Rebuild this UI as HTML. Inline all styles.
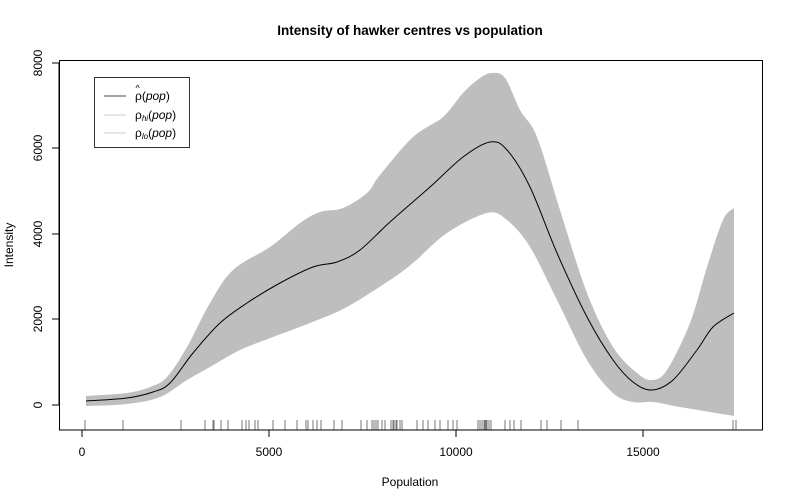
<!DOCTYPE html>
<html><head><meta charset="utf-8"><style>
body{margin:0;background:#fff;}
svg{display:block;font-family:"Liberation Sans",Arial,sans-serif;}
</style></head><body>
<svg width="792" height="504" viewBox="0 0 792 504">
<rect width="792" height="504" fill="#fff"/>
<path id="band" fill="#bebebe" stroke="none" d="M86,396 L127,393 L150,387 L167,377 L187,347 L210,303 L233,270 L270,247 L300,223 L320,212 L343,208 L367,193 L380,175 L413,137 L443,117 L463,93 L480,78 L492,73 L505,78 L520,110 L537,137 L560,210 L587,293 L613,347 L637,373 L652,380 L667,370 L690,323 L707,267 L723,220 L734,208 L734,416 L680,407 L653,402 L633,402 L613,393 L587,360 L557,300 L530,247 L507,220 L487,213 L447,233 L413,263 L390,280 L347,307 L310,323 L273,337 L240,350 L210,367 L187,380 L160,397 L127,404 L86,406 Z"/>
<path id="mean" fill="none" stroke="#000" stroke-width="1" d="M86,401 L127,398 L153,392 L170,383 L193,353 L220,323 L247,303 L280,283 L313,267 L337,262 L360,250 L390,222 L430,187 L463,157 L490,142 L507,150 L530,187 L557,253 L587,317 L613,360 L633,382 L652,390 L673,380 L697,350 L713,327 L734,313"/>
<g stroke="#555" stroke-width="0.8">
<path d="M85,420v10M123,420v10M181,420v10M205,420v10M213,420v10M214,420v10M221,420v10M228,420v10M242,420v10M246,420v10M249,420v10M255,420v10M258,420v10M273,420v10M285,420v10M297,420v10M306,420v10M308,420v10M313,420v10M317,420v10M321,420v10M334,420v10M342,420v10M361,420v10M367,420v10M372,420v10M374,420v10M376,420v10M378,420v10M382,420v10M385,420v10M391,420v10M393,420v10M394,420v10M396,420v10M397,420v10M400,420v10M402,420v10M417,420v10M423,420v10M428,420v10M435,420v10M440,420v10M448,420v10M453,420v10M457,420v10M478,420v10M480,420v10M482,420v10M484,420v10M485,420v10M486,420v10M487,420v10M489,420v10M491,420v10M505,420v10M510,420v10M514,420v10M521,420v10M541,420v10M547,420v10M561,420v10M578,420v10M733,420v10M736,420v10"/>
</g>
<rect x="59.5" y="60.5" width="703" height="369.5" fill="none" stroke="#000"/>
<g stroke="#000">
<line x1="82" y1="430" x2="643" y2="430"/>
<line x1="82" y1="430" x2="82" y2="437"/><line x1="269" y1="430" x2="269" y2="437"/><line x1="456" y1="430" x2="456" y2="437"/><line x1="643" y1="430" x2="643" y2="437"/>
<line x1="59" y1="63" x2="59" y2="405"/>
<line x1="52" y1="405" x2="59" y2="405"/><line x1="52" y1="319" x2="59" y2="319"/><line x1="52" y1="234" x2="59" y2="234"/><line x1="52" y1="148" x2="59" y2="148"/><line x1="52" y1="63" x2="59" y2="63"/>
</g>
<g font-size="12" text-anchor="middle" fill="#000">
<text x="82" y="456">0</text><text x="269" y="456">5000</text><text x="456" y="456">10000</text><text x="643" y="456">15000</text>
<g transform="translate(42,405) rotate(-90)"><text>0</text></g>
<g transform="translate(42,319) rotate(-90)"><text>2000</text></g>
<g transform="translate(42,234) rotate(-90)"><text>4000</text></g>
<g transform="translate(42,148) rotate(-90)"><text>6000</text></g>
<g transform="translate(42,63) rotate(-90)"><text>8000</text></g>
<text x="410" y="486">Population</text>
<g transform="translate(13,245) rotate(-90)"><text>Intensity</text></g>
<text x="410" y="35" font-weight="bold" font-size="13.5">Intensity of hawker centres vs population</text>
</g>
<rect x="94.5" y="77.5" width="95" height="70" fill="#fff" stroke="#000" stroke-width="0.8"/>
<line x1="104" y1="96" x2="126" y2="96" stroke="#444"/>
<line x1="104" y1="115" x2="126" y2="115" stroke="#ccc"/>
<line x1="104" y1="133" x2="126" y2="133" stroke="#ccc"/>
<g font-size="12" fill="#000">
<text x="135" y="100">ρ(<tspan font-style="italic">pop</tspan>)</text>
<text x="135.5" y="91" font-size="9">^</text>
<text x="135" y="119">ρ<tspan font-size="8" font-style="italic" dy="2">hi</tspan><tspan dy="-2">(</tspan><tspan font-style="italic">pop</tspan>)</text>
<text x="135" y="137">ρ<tspan font-size="8" font-style="italic" dy="2">lo</tspan><tspan dy="-2">(</tspan><tspan font-style="italic">pop</tspan>)</text>
</g>
</svg>
<script>
function parse(d){var m=d.match(/-?\d+(\.\d+)?/g).map(Number),p=[];for(var i=0;i<m.length;i+=2)p.push([m[i],m[i+1]]);return p;}
function smooth(p){var s="M"+p[0][0]+","+p[0][1];for(var i=0;i<p.length-1;i++){var a=p[Math.max(i-1,0)],b=p[i],c=p[i+1],d=p[Math.min(i+2,p.length-1)];var c1=[b[0]+(c[0]-a[0])/6,b[1]+(c[1]-a[1])/6],c2=[c[0]-(d[0]-b[0])/6,c[1]-(d[1]-b[1])/6];s+=" C"+c1[0].toFixed(1)+","+c1[1].toFixed(1)+" "+c2[0].toFixed(1)+","+c2[1].toFixed(1)+" "+c[0]+","+c[1];}return s;}
try{
var m=document.getElementById("mean");m.setAttribute("d",smooth(parse(m.getAttribute("d"))));
var b=document.getElementById("band");var pts=parse(b.getAttribute("d"));
var k=0;for(var i=0;i<pts.length;i++){if(pts[i][0]==734&&pts[i][1]==416){k=i;break;}}
var up=pts.slice(0,k),lo=pts.slice(k);
b.setAttribute("d",smooth(up)+" L"+smooth(lo).slice(1)+" Z");
}catch(e){}
</script>
</body></html>
